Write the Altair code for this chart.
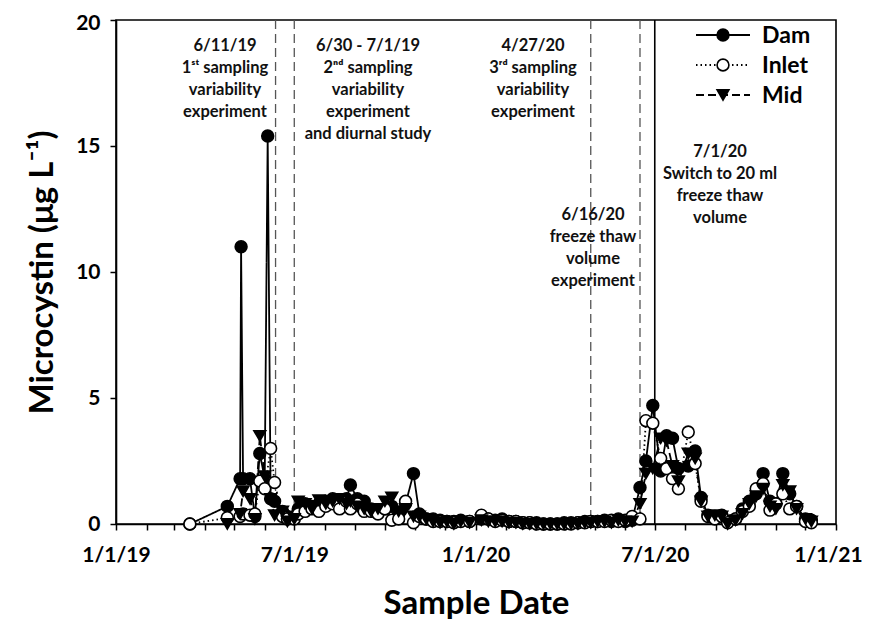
import altair as alt
import pandas as pd

# ---------------- data ----------------
dates = [
    "2019-03-17", "2019-04-24", "2019-05-07", "2019-05-08", "2019-05-10", "2019-05-17",
    "2019-05-22", "2019-05-27", "2019-06-01", "2019-06-04", "2019-06-07", "2019-06-11",
    "2019-06-19", "2019-06-24", "2019-07-01", "2019-07-05", "2019-07-12", "2019-07-19",
    "2019-07-26", "2019-08-02", "2019-08-09", "2019-08-16", "2019-08-23", "2019-08-27",
    "2019-09-03", "2019-09-10", "2019-09-17", "2019-09-24", "2019-10-01", "2019-10-08",
    "2019-10-15", "2019-10-22", "2019-10-30", "2019-11-05", "2019-11-12", "2019-11-19",
    "2019-11-26", "2019-12-03", "2019-12-10", "2019-12-17", "2019-12-26", "2020-01-07",
    "2020-01-14", "2020-01-21", "2020-01-28", "2020-02-04", "2020-02-11", "2020-02-18",
    "2020-02-25", "2020-03-03", "2020-03-10", "2020-03-17", "2020-03-24", "2020-03-31",
    "2020-04-07", "2020-04-14", "2020-04-21", "2020-04-27", "2020-05-04", "2020-05-11",
    "2020-05-18", "2020-05-25", "2020-06-01", "2020-06-08", "2020-06-16", "2020-06-22",
    "2020-06-29", "2020-07-07", "2020-07-13", "2020-07-19", "2020-07-25", "2020-08-04",
    "2020-08-11", "2020-08-17", "2020-08-24", "2020-08-31", "2020-09-07", "2020-09-13",
    "2020-09-21", "2020-09-28", "2020-10-05", "2020-10-12", "2020-10-19", "2020-10-26",
    "2020-11-01", "2020-11-08", "2020-11-15", "2020-11-22", "2020-12-01", "2020-12-07",
]
dam = [
    0.0, 0.7, 1.8, 11.0, 1.8, 1.8,
    0.3, 2.8, 1.8, 15.4, 1.0, 0.9,
    0.5, 0.3, 0.3, 0.6, 0.8, 0.7,
    0.8, 0.9, 1.0, 0.9, 1.0, 1.55,
    1.0, 0.9, 0.6, 0.5, 0.6, 0.7,
    0.4, 0.8, 2.0, 0.4, 0.2, 0.2,
    0.15, 0.1, 0.1, 0.15, 0.1, 0.2,
    0.2, 0.15, 0.2, 0.1, 0.1, 0.05,
    0.05, 0.05, 0.0, 0.0, 0.0, 0.05,
    0.05, 0.05, 0.1, 0.1, 0.1, 0.15,
    0.1, 0.2, 0.1, 0.15, 1.45, 2.5,
    4.7, 2.1, 3.5, 3.4, 2.2, 2.3,
    2.9, 1.05, 0.35, 0.3, 0.35, 0.1,
    0.2, 0.6, 0.9, 1.2, 2.0, 0.9,
    0.8, 2.0, 1.2, 0.7, 0.2, 0.15,
]
inlet = [
    0.0, 0.25, 0.3, None, 0.4, 0.35,
    0.4, 1.7, 1.4, None, 3.0, 1.65,
    0.3, 0.2, 0.2, 0.4, 0.5, 0.6,
    0.5, 0.7, 0.8, 0.6, 0.9, 0.6,
    0.8, 0.5, 0.5, 0.4, 0.6, 0.15,
    0.2, 0.9, 0.05, 0.3, 0.2, 0.1,
    0.1, 0.1, 0.05, 0.1, 0.1, 0.35,
    0.2, 0.1, 0.15, 0.1, 0.1, 0.05,
    0.05, 0.0, 0.0, 0.0, 0.0, 0.0,
    0.0, 0.05, 0.05, 0.1, 0.1, 0.1,
    0.15, 0.1, 0.15, 0.3, 0.2, 4.1,
    4.0, 2.6, 2.2, 1.8, 1.4, 3.65,
    2.4, 0.9, 0.3, 0.2, 0.3, 0.05,
    0.2, 0.5, 0.7, 1.4, 1.6, 0.55,
    0.8, 1.2, 0.6, 0.7, 0.1, 0.05,
]
mid = [
    None, 0.0, 0.4, None, 1.3, 1.0,
    0.2, 3.5, 1.9, None, 1.0, 0.35,
    0.5, 0.1, 0.2, 0.9, 0.8, 0.6,
    0.95, 0.8, 0.9, 1.0, 0.8, 0.9,
    0.7, 0.6, 0.5, 0.6, 0.9, 1.05,
    0.5, 0.6, 0.3, 0.3, 0.2, 0.1,
    0.05, 0.1, 0.0, 0.1, 0.05, 0.15,
    0.1, 0.1, 0.1, 0.05, 0.05, 0.0,
    0.0, 0.0, 0.0, 0.0, 0.0, 0.0,
    0.0, 0.0, 0.05, 0.05, 0.1, 0.1,
    0.05, 0.15, 0.1, 0.1, 0.8, 2.0,
    2.2, 3.4, 3.3, 2.3, 1.7, 2.8,
    2.6, 0.9, 0.3, 0.35, 0.3, 0.0,
    0.15, 0.4, 0.8, 1.1, 1.4, 0.7,
    0.6, 1.55, 1.3, 0.6, 0.2, 0.1,
]
series_names = ["Dam", "Inlet", "Mid"]

event_dates = ["2019-06-12", "2019-07-01", "2020-04-27", "2020-06-16", "2020-07-01"]
event_kinds = ["dashed", "dashed", "dashed", "dashed", "solid"]

notes = [
    ["6/11/19", "1ˢᵗ sampling", "variability", "experiment"],
    ["6/30 - 7/1/19", "2ⁿᵈ sampling", "variability", "experiment", "and diurnal study"],
    ["4/27/20", "3ʳᵈ sampling", "variability", "experiment"],
    ["6/16/20", "freeze thaw", "volume", "experiment"],
    ["7/1/20", "Switch to 20 ml", "freeze thaw", "volume"],
]

month_ticks = [f"{y}-{m:02d}-01" for y in (2019, 2020) for m in range(1, 13)] + ["2021-01-01"]
y_ticks = [0, 5, 10, 15, 20]

# ---------------- build ----------------
records = []
for name, vals in zip(series_names, [dam, inlet, mid]):
    for d, v in zip(dates, vals):
        if v is not None:
            records.append({"date": d, "value": v, "series": name})
df = pd.DataFrame(records)
ev = pd.DataFrame({"date": event_dates, "kind": event_kinds})

FONT = "Lato"


def ms(s):
    return int(pd.Timestamp(s, tz="UTC").value // 10**6)


x_end = ms("2021-01-01")
x_scale = alt.Scale(type="utc", domain=[ms("2019-01-01"), x_end], nice=False)
x_axis = alt.Axis(
    values=[ms(t) for t in month_ticks],
    labelExpr="utcmonth(datum.value) % 6 == 0 ? utcFormat(datum.value, '%-m/%-d/%y') : ''",
    labelPadding=14, titlePadding=22, labelFlush=False, labelOverlap=False,
    labelOffset={"condition": {"test": f"datum.value >= {x_end}", "value": -8}, "value": 0},
)
y_axis = alt.Axis(
    values=y_ticks, titlePadding=16, labelPadding=10,
    labelOffset={"condition": {"test": "datum.value >= 20", "value": 3}, "value": 0},
)

X = alt.X("date:T", scale=x_scale, axis=x_axis, title="Sample Date")
Y = alt.Y("value:Q", scale=alt.Scale(domain=[0, 20], nice=False), axis=y_axis,
          title="Microcystin (μg L⁻¹)")

base = alt.Chart(df).encode(x=X, y=Y)

rules_dashed = alt.Chart(ev).transform_filter(alt.datum.kind == "dashed").mark_rule(
    color="#555555", strokeWidth=1.3, strokeDash=[9, 5]).encode(x=X)
rules_solid = alt.Chart(ev).transform_filter(alt.datum.kind == "solid").mark_rule(
    color="black", strokeWidth=1.6).encode(x=X)

line_styles = {
    "Dam": dict(strokeDash=[1, 0]),
    "Inlet": dict(strokeDash=[1.5, 3]),
    "Mid": dict(strokeDash=[8, 4]),
}
point_styles = {
    "Dam": dict(shape="circle", filled=True, fill="black", stroke="black"),
    "Inlet": dict(shape="circle", filled=True, fill="white", stroke="black"),
    "Mid": dict(shape="triangle-down", filled=True, fill="black", stroke="black"),
}

lines = []
points = []
for name in series_names:
    sub = base.transform_filter(alt.datum.series == name)
    lines.append(sub.mark_line(color="black", strokeWidth=1.8, **line_styles[name]))
    points.append(sub.mark_point(size=140, strokeWidth=1.6, opacity=1, **point_styles[name]))

one = pd.DataFrame({"k": [0]})
note_pos = [(109, 31), (252, 31), (417, 31), (477, 200), (604, 137)]
note_layers = []
for lines_txt, (px, py) in zip(notes, note_pos):
    note_layers.append(
        alt.Chart(one).mark_text(
            text=lines_txt, align="center", baseline="alphabetic", lineHeight=22,
            font=FONT, fontWeight="bold", fontSize=16.5, color="#111111",
        ).encode(x=alt.value(px), y=alt.value(py))
    )

legend_layers = []
for i, name in enumerate(series_names):
    ly = 15 + 30 * i
    legend_layers.append(
        alt.Chart(one).mark_rule(color="black", strokeWidth=1.8, **line_styles[name]).encode(
            x=alt.value(580), x2=alt.value(634), y=alt.value(ly))
    )
    legend_layers.append(
        alt.Chart(one).mark_point(size=140, strokeWidth=1.6, opacity=1, **point_styles[name]).encode(
            x=alt.value(607), y=alt.value(ly))
    )
    legend_layers.append(
        alt.Chart(one).mark_text(text=name, align="left", baseline="middle", font=FONT,
                                 fontWeight="bold", fontSize=23, color="black").encode(
            x=alt.value(646), y=alt.value(ly + 1))
    )

chart = alt.layer(
    rules_dashed, rules_solid, *lines, *points, *note_layers, *legend_layers
).properties(
    width=720, height=504,
    autosize=alt.AutoSizeParams(type="none"),
    padding={"left": 108, "top": 12, "right": 26, "bottom": 98},
).configure_view(
    stroke="black", strokeWidth=1.6
).configure_axis(
    grid=False, domainColor="black", domainWidth=1.6, tickColor="black", tickWidth=1.5,
    tickSize=6, labelFont=FONT, labelFontWeight="bold", labelFontSize=21, labelColor="black",
    titleFont=FONT, titleFontWeight="bold", titleFontSize=33, titleColor="black",
)

chart.save("out.html", embed_options={"renderer": "svg", "actions": False})
